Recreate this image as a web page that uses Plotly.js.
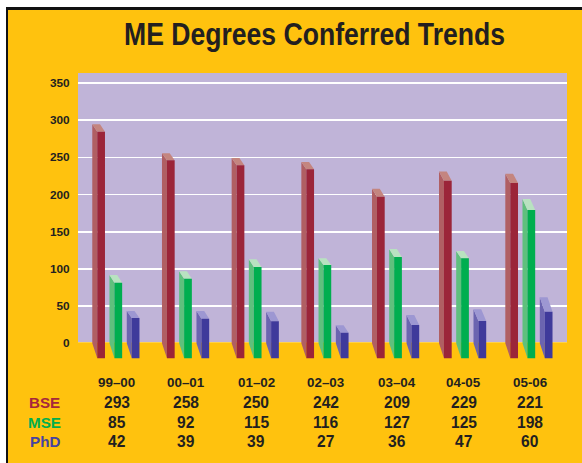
<!DOCTYPE html>
<html>
<head>
<meta charset="utf-8">
<script src="https://cdn.plot.ly/plotly-3.0.1.min.js"></script>
<style>
html,body{margin:0;padding:0;background:#fff;overflow:hidden;}
#frame{position:absolute;left:6px;top:7px;width:574px;height:453px;background:#ffc20e;border-left:2px solid #111;border-top:3px solid #111;}
#chart{position:absolute;left:0;top:0;width:582px;height:463px;}
</style>
</head>
<body>
<div id="frame"></div>
<div id="chart"></div>
<script>
// Table values
const years = ["99–00","00–01","01–02","02–03","03–04","04-05","05-06"];
const bse = [293,258,250,242,209,229,221];
const mse = [85,92,115,116,127,125,198];
const phd = [42,39,39,27,36,47,60];
const seriesNames = ["BSE","MSE","PhD"];
const yTicks = [0,50,100,150,200,250,300,350];

// Bar heights as drawn in the picture (rear edge and front edge of each bar's top)
const bseRear  = [294.5,255.5,249,243.8,207.9,231,228];
const bseFront = [284.5,246,239.5,234,197,218.5,215.5];
const mseRear  = [91.8,96.8,113,114.3,126.8,124,194];
const mseFront = [81.5,86.9,102.6,105.3,116,114.3,179.2];
const phdRear  = [43.4,43.4,42.5,24.2,38,45.7,61.9];
const phdFront = [34,33,29.6,14.3,24.6,30,42.5];

// Layout constants
const groupNudge = [0,.01,.02,.03,.054,.025,-.014];
const seriesOffset = [0,.249,.5];
const sideW = .072, frontW = .112, floorY = -20;
const labelOffset = .355, rowY = [382,402,422,441];
const W = 582, H = 463, mL = 78, mR = 15, mT = 73, mB = 103;
const xRange = [-.207,6.88], yRange = [-22.5,363.4];
const pY = px => 1 - (px - mT) / (H - mT - mB);
const pX = px => (px - mL) / (W - mL - mR);

const yellow = "#ffc20e", ink = "#231f20", sans = "Liberation Sans, Arial, sans-serif";
const palettes = [
  {front:"#9b2539", side:"#b05f63", top:"#c4857f", label:"#a5283c"},
  {front:"#00ae4f", side:"#5fc07d", top:"#b8e2c0", label:"#00ae4f"},
  {front:"#3f3a9b", side:"#6b64b0", top:"#9d97d2", label:"#4643a0"}
];
const rear = [bseRear,mseRear,phdRear], front = [bseFront,mseFront,phdFront];

function face(xs, ys, color){
  return {type:"scatter",mode:"lines",x:xs,y:ys,fill:"toself",fillcolor:color,
          line:{width:0,color:color},showlegend:false,hoverinfo:"skip"};
}
// Yellow floor in front of the lavender wall, hiding the gridline at zero
const floorTop = 1.2;
const traces = [face([xRange[0],xRange[1],xRange[1],xRange[0],xRange[0]],
                     [yRange[0],yRange[0],floorTop,floorTop,yRange[0]],yellow)];
seriesNames.forEach((name,s)=>{
  const sx=[],sy=[],fx=[],fy=[],tx=[],ty=[];
  years.forEach((yr,i)=>{
    const a = i + groupNudge[i] + seriesOffset[s], b = a + sideW, c = b + frontW, d = a + frontW;
    const R = rear[s][i], F = front[s][i];
    sx.push(a,b,b,a,a,null); sy.push(0,floorY,F,R,0,null);
    fx.push(b,c,c,b,b,null); fy.push(floorY,floorY,F,F,floorY,null);
    tx.push(a,d,c,b,a,null); ty.push(R,R,F,F,R,null);
  });
  traces.push(face(sx,sy,palettes[s].side), face(tx,ty,palettes[s].top), face(fx,fy,palettes[s].front));
});

const annotations = [];
const cell = (x,xref,row,text,size,color)=>({x:x,xref:xref,y:pY(rowY[row]),yref:"paper",text:"<b>"+text+"</b>",showarrow:false,
  xanchor:"center",yanchor:"middle",font:{family:sans,size:size,color:color}});
years.forEach((yr,i)=>{
  const x = i + groupNudge[i] + labelOffset;
  annotations.push(cell(x,"x",0,yr,13.4,ink));
  annotations.push(cell(x,"x",1,bse[i],15.6,ink));
  annotations.push(cell(x,"x",2,mse[i],15.6,ink));
  annotations.push(cell(x,"x",3,phd[i],15.6,ink));
});
seriesNames.forEach((n,s)=>{
  annotations.push(cell(pX(44.6),"paper",s+1,n,15.2,palettes[s].label));
});

const layout = {
  width:W,height:H,
  margin:{l:mL,r:mR,t:mT,b:mB,pad:0},
  paper_bgcolor:"rgba(0,0,0,0)",
  plot_bgcolor:"#c0b4d8",
  title:{text:"<b>ME Degrees Conferred Trends</b>",x:314.5/W,xanchor:"center",y:1-34/H,yanchor:"middle",
    font:{family:sans,size:32,color:ink}},
  xaxis:{range:xRange,showgrid:false,zeroline:false,showticklabels:false,ticks:"",showline:false,fixedrange:true},
  yaxis:{range:yRange,tickvals:yTicks,ticktext:yTicks.map(String),showgrid:true,gridcolor:"#ffffff",gridwidth:1.6,
    zeroline:false,showline:false,ticks:"outside",ticklen:5,tickcolor:"rgba(0,0,0,0)",
    tickfont:{family:sans,size:11.8,color:ink,weight:700},fixedrange:true},
  annotations:annotations
};
Plotly.newPlot("chart",traces,layout,{displayModeBar:false,staticPlot:true}).then(gd=>{
  // The reference title is set in a condensed face: fit the real text to its width.
  const t = gd.querySelector(".gtitle");
  if(t){
    t.setAttribute("textLength","381");
    t.setAttribute("lengthAdjust","spacingAndGlyphs");
  }
});
</script>
</body>
</html>
